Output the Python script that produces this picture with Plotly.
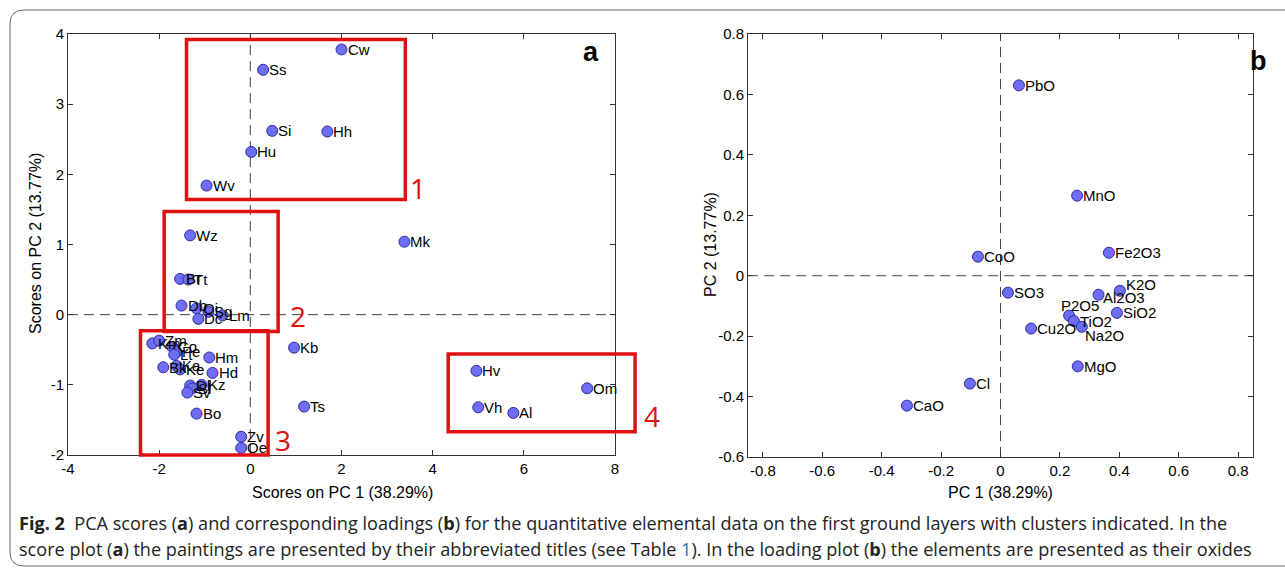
import plotly.graph_objects as go

W, H = 1285, 569

# ---------------- data: PCA scores (panel a) ----------------
score_labels = ["Cw", "Ss", "Si", "Hh", "Hu", "Wv", "Mk", "Wz", "Br", "Tt",
                "Db", "Oi", "Sg", "Lm", "Dc", "Kb", "Ts", "Hv", "Vh", "Al", "Om",
                "Km", "Zm", "Co", "Pe", "Lt", "Bk", "Ka", "Ke", "Hm", "Hd",
                "Dl", "Kz", "Sl", "Sv", "Bo", "Zv", "Oe"]
score_pc1 = [2.00, 0.28, 0.48, 1.69, 0.02, -0.96, 3.38, -1.32, -1.54, -1.36,
             -1.51, -1.18, -0.92, -0.61, -1.14, 0.96, 1.18, 4.96, 5.00, 5.77, 7.39,
             -2.15, -2.00, -1.71, -1.62, -1.67, -1.91, -1.62, -1.54, -0.90, -0.83,
             -1.32, -1.07, -1.27, -1.38, -1.18, -0.20, -0.20]
score_pc2 = [3.78, 3.49, 2.62, 2.61, 2.32, 1.84, 1.04, 1.13, 0.51, 0.50,
             0.13, 0.09, 0.04, -0.01, -0.06, -0.47, -1.31, -0.80, -1.32, -1.40, -1.05,
             -0.41, -0.37, -0.46, -0.53, -0.57, -0.75, -0.73, -0.78, -0.61, -0.83,
             -1.01, -1.00, -1.05, -1.11, -1.41, -1.74, -1.90]

# ---------------- data: PCA loadings (panel b) ----------------
load_labels = ["PbO", "MnO", "Fe2O3", "CoO", "SO3", "K2O", "Al2O3", "SiO2",
               "P2O5", "TiO2", "Na2O", "Cu2O", "MgO", "Cl", "CaO"]
load_pc1 = [0.062, 0.258, 0.365, -0.076, 0.025, 0.402, 0.330, 0.392,
            0.231, 0.247, 0.274, 0.103, 0.260, -0.103, -0.315]
load_pc2 = [0.630, 0.265, 0.076, 0.063, -0.056, -0.050, -0.063, -0.123,
            -0.132, -0.150, -0.169, -0.175, -0.300, -0.357, -0.430]

# tick labels
a_xticks = [-4, -2, 0, 2, 4, 6, 8]
a_xticktext = ["-4", "-2", "0", "2", "4", "6", "8"]
a_yticks = [-2, -1, 0, 1, 2, 3, 4]
a_yticktext = ["-2", "-1", "0", "1", "2", "3", "4"]
b_xticks = [-0.8, -0.6, -0.4, -0.2, 0, 0.2, 0.4, 0.6, 0.8]
b_xticktext = ["-0.8", "-0.6", "-0.4", "-0.2", "0", "0.2", "0.4", "0.6", "0.8"]
b_yticks = [-0.6, -0.4, -0.2, 0, 0.2, 0.4, 0.6, 0.8]
b_yticktext = ["-0.6", "-0.4", "-0.2", "0", "0.2", "0.4", "0.6", "0.8"]

# ---------------- layout geometry (pixels) ----------------
def px(x):
    return x / W

def py(y):
    return 1 - y / H

A_XR, A_YR = [-4, 8], [-2, 4]
B_XR, B_YR = [-0.85, 0.85], [-0.6, 0.8]
A_XD, A_YD = [px(68), px(615)], [py(455), py(34)]
B_XD, B_YD = [px(748), px(1253)], [py(457), py(34)]


def dx(v, rng=A_XR, dom=A_XD):
    return dom[0] + (v - rng[0]) / (rng[1] - rng[0]) * (dom[1] - dom[0])


def dy(v, rng=A_YR, dom=A_YD):
    return dom[0] + (v - rng[0]) / (rng[1] - rng[0]) * (dom[1] - dom[0])


# cluster boxes in score-plot units: (x0, x1, y0, y1, label, label_x, label_y)
clusters = [
    (-1.40, 3.40, 1.64, 3.92, "1", 3.68, 1.80),
    (-1.89, 0.61, -0.24, 1.47, "2", 1.05, -0.02),
    (-2.41, 0.39, -2.00, -0.23, "3", 0.72, -1.79),
    (4.34, 8.44, -1.67, -0.56, "4", 8.82, -1.45),
]

# label pixel offsets (x, y-up) for the loading labels that are nudged
load_label_shift = {"K2O": (5, 6), "Al2O3": (3, -3), "P2O5": (-9, 10), "Na2O": (2, -9)}

marker = dict(size=11, color="#6e6ef4", line=dict(color="#2c2ca6", width=1))
lab_font = dict(family="Liberation Sans, Arial", size=15, color="black")

fig = go.Figure()
fig.add_trace(go.Scatter(
    x=score_pc1, y=score_pc2, text=score_labels, mode="markers", hoverinfo="text",
    marker=marker, xaxis="x", yaxis="y", cliponaxis=False, showlegend=False))
fig.add_trace(go.Scatter(
    x=load_pc1, y=load_pc2, text=load_labels, mode="markers", hoverinfo="text",
    marker=marker, xaxis="x2", yaxis="y2", cliponaxis=False, showlegend=False))

ax_common = dict(showline=True, linecolor="#333", linewidth=1, mirror="ticks",
                 ticks="inside", ticklen=5, tickcolor="#333", showgrid=False,
                 zeroline=False, automargin=False,
                 tickfont=dict(family="Liberation Sans, Arial", size=15, color="black"))

fig.update_layout(
    template="none",
    width=W, height=H, autosize=False,
    margin=dict(l=0, r=0, t=0, b=0, pad=0, autoexpand=False),
    paper_bgcolor="white", plot_bgcolor="white",
    xaxis=dict(domain=A_XD, range=A_XR, tickvals=a_xticks, ticktext=a_xticktext,
               anchor="y", **ax_common),
    yaxis=dict(domain=A_YD, range=A_YR, tickvals=a_yticks, ticktext=a_yticktext,
               anchor="x", **ax_common),
    xaxis2=dict(domain=B_XD, range=B_XR, tickvals=b_xticks, ticktext=b_xticktext,
                anchor="y2", **ax_common),
    yaxis2=dict(domain=B_YD, range=B_YR, tickvals=b_yticks, ticktext=b_yticktext,
                anchor="x2", **ax_common),
)

shapes = []
dash = dict(color="#444", width=1, dash="10px,6px")
for xr, yr in (("x", "y"), ("x2", "y2")):
    shapes.append(dict(type="line", xref=xr, yref=yr + " domain", x0=0, x1=0,
                       y0=0, y1=1, line=dash, layer="below"))
    shapes.append(dict(type="line", xref=xr + " domain", yref=yr, x0=0, x1=1,
                       y0=0, y1=0, line=dash, layer="below"))

annotations = []

# point labels, placed just right of each marker through the axes
for lab, xv, yv in zip(score_labels, score_pc1, score_pc2):
    annotations.append(dict(xref="x", yref="y", x=xv, y=yv, text=lab, showarrow=False,
                            xanchor="left", yanchor="middle", xshift=5, borderpad=0,
                            font=lab_font))
for lab, xv, yv in zip(load_labels, load_pc1, load_pc2):
    sx, sy = load_label_shift.get(lab, (5, 0))
    annotations.append(dict(xref="x2", yref="y2", x=xv, y=yv, text=lab, showarrow=False,
                            xanchor="left", yanchor="middle", xshift=sx, yshift=sy,
                            borderpad=0, font=lab_font))

for x0, x1, y0, y1, lab, lx, ly in clusters:
    shapes.append(dict(type="rect", xref="paper", yref="paper",
                       x0=dx(x0), x1=dx(x1), y0=dy(y0), y1=dy(y1),
                       line=dict(color="#e01010", width=3.5)))
    annotations.append(dict(xref="paper", yref="paper", x=dx(lx), y=dy(ly),
                            xanchor="center", yanchor="middle",
                            text=lab, showarrow=False,
                            font=dict(family="Open Sans, Liberation Sans", size=28,
                                      color="#e01010")))

# outer rounded frame
frame = (f"M {px(1290)},{py(10)} L {px(24)},{py(10)} Q {px(10)},{py(10)} {px(10)},{py(24)} "
         f"L {px(10)},{py(552)} Q {px(10)},{py(566)} {px(24)},{py(566)} L {px(1290)},{py(566)}")
shapes.append(dict(type="path", xref="paper", yref="paper", path=frame,
                   line=dict(color="#666", width=1)))


def note(x, y, text, font, xanchor="center", angle=0):
    return dict(xref="paper", yref="paper", x=px(x), y=py(y), text=text,
                showarrow=False, font=font, xanchor=xanchor, yanchor="middle",
                textangle=angle)


axfont = dict(family="Liberation Sans, Arial", size=16, color="black")
letfont = dict(family="Liberation Sans, Arial", size=27, color="black")
annotations += [
    note(342, 492, "Scores on PC 1 (38.29%)", axfont),
    note(35, 244, "Scores on PC 2 (13.77%)", axfont, angle=-90),
    note(1000, 492, "PC 1 (38.29%)", axfont),
    note(710, 245, "PC 2 (13.77%)", axfont, angle=-90),
    note(591, 52, "<b>a</b>", letfont),
    note(1258, 61, "<b>b</b>", letfont),
]

capfont = dict(family="Open Sans, Noto Sans", size=18.1, color="#222")
annotations += [
    note(17, 523, "<b>Fig. 2</b>  PCA scores (<b>a</b>) and corresponding loadings (<b>b</b>) for the "
                  "quantitative elemental data on the first ground layers with clusters indicated. In the",
         capfont, xanchor="left"),
    note(17, 549, "score plot (<b>a</b>) the paintings are presented by their abbreviated titles (see Table "
                  "<span style='color:#2a6ebb'>1</span>). In the loading plot (<b>b</b>) the elements are "
                  "presented as their oxides",
         capfont, xanchor="left"),
]

fig.update_layout(shapes=shapes, annotations=annotations)
fig.write_html(
    "out.html",
    config={"displayModeBar": False},
    post_script="document.body.style.margin='0';"
                "document.documentElement.style.overflow='hidden';"
                "document.body.style.overflow='hidden';",
)
